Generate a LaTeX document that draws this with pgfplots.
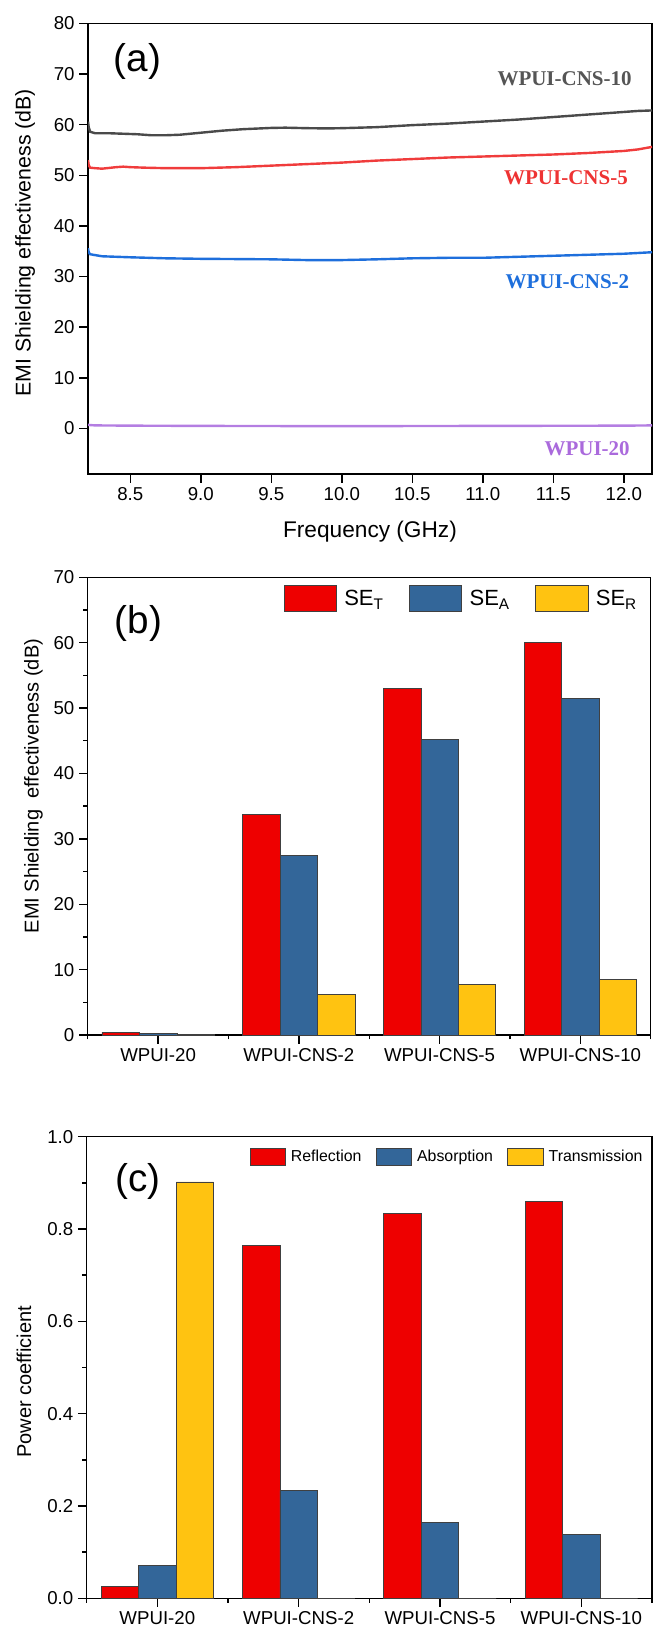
\documentclass[border=0pt]{standalone}
\usepackage{fontspec}
\setmainfont{Liberation Sans}
\newfontfamily\tnr{Liberation Serif}
\usepackage{pgfplots}
\pgfplotsset{compat=1.18}

\definecolor{cgray}{HTML}{4A4A4A}
\definecolor{cred}{HTML}{F03C3C}
\definecolor{cblue}{HTML}{1E6FDC}
\definecolor{cpurple}{HTML}{B47EE2}
\definecolor{lgray}{HTML}{555555}
\definecolor{lred}{HTML}{EE3333}
\definecolor{lblue}{HTML}{1E6FDC}
\definecolor{lpurple}{HTML}{AA6ADC}
\definecolor{bred}{HTML}{EE0000}
\definecolor{bblue}{HTML}{336699}
\definecolor{byellow}{HTML}{FFC311}

\newcommand{\sub}[1]{\raisebox{-3.5pt}{\fontsize{11.5}{12}\selectfont #1}}

\pgfplotsset{
  myaxis/.style={
    scale only axis,
    axis line style={line width=1.1pt},
    every tick/.style={line width=1.1pt, black},
    tick align=outside,
    xtick pos=left, ytick pos=left,
    major tick length=6.5pt, minor tick length=3.3pt,
    tick label style={font=\fontsize{14}{16}\selectfont},
    label style={font=\fontsize{16}{18}\selectfont},
    /pgf/number format/assume math mode=true,
  },
  boxlegB/.style={legend image code/.code={\draw[##1] (0pt,-9.75pt) rectangle (39.3pt,9.75pt);}},
  boxlegC/.style={legend image code/.code={\draw[##1] (0pt,-6.3pt) rectangle (26.8pt,6.3pt);}},
}

\begin{document}
\begin{tikzpicture}
\path[use as bounding box] (0pt,0pt) rectangle (489.75pt,-1221.75pt);

% ---------------- (a) ----------------
\begin{axis}[myaxis,
  at={(66pt,-355.5pt)}, anchor=south west,
  width=423pt, height=338pt,
  xmin=8.2, xmax=12.2, ymin=-9, ymax=80,
  xtick={8.5,9.0,9.5,10.0,10.5,11.0,11.5,12.0},
  ytick={0,10,20,30,40,50,60,70,80},
  xticklabel style={/pgf/number format/.cd, fixed, fixed zerofill, precision=1},
  xlabel={Frequency (GHz)},
  ylabel={EMI Shielding effectiveness (dB)},
  xlabel style={at={(rel axis cs:0.5,-0.1287)}, anchor=center, font=\fontsize{17}{19}\selectfont},
  ylabel style={at={(rel axis cs:-0.1117,0.513)}, anchor=center},
  every axis plot/.append style={line width=1.8pt},
]
\addplot[cgray] coordinates {(8.200,60.6) (8.205,59.5) (8.215,58.6) (8.25,58.3) (8.35,58.3) (8.45,58.2) (8.55,58.1) (8.65,57.9) (8.75,57.9) (8.85,58.0) (9.0,58.4) (9.15,58.8) (9.3,59.1) (9.5,59.35) (9.6,59.4) (9.75,59.3) (9.9,59.25) (10.0,59.3) (10.25,59.5) (10.5,59.9) (10.75,60.2) (11.0,60.6) (11.25,61.0) (11.5,61.5) (11.75,62.0) (12.0,62.5) (12.1,62.7) (12.2,62.8)};
\addplot[cred] coordinates {(8.200,53.0) (8.205,52.0) (8.215,51.5) (8.25,51.4) (8.3,51.3) (8.4,51.6) (8.45,51.7) (8.5,51.6) (8.6,51.5) (8.75,51.4) (9.0,51.4) (9.25,51.6) (9.5,51.9) (9.75,52.2) (10.0,52.5) (10.25,52.9) (10.5,53.2) (10.75,53.5) (11.0,53.7) (11.25,53.9) (11.5,54.1) (11.75,54.4) (12.0,54.8) (12.1,55.1) (12.2,55.6)};
\addplot[cblue] coordinates {(8.200,35.6) (8.205,34.8) (8.215,34.4) (8.3,34.0) (8.5,33.8) (8.75,33.6) (9.0,33.5) (9.5,33.4) (9.75,33.25) (10.0,33.25) (10.25,33.4) (10.5,33.6) (10.75,33.7) (11.0,33.7) (11.25,33.9) (11.5,34.1) (11.75,34.3) (12.0,34.5) (12.2,34.8)};
\addplot[cpurple] coordinates {(8.2,0.7) (8.25,0.6) (8.5,0.55) (9.0,0.5) (10.0,0.45) (11.0,0.5) (12.0,0.55) (12.2,0.6)};
\node[font=\fontsize{29}{32}\selectfont] at (axis cs:8.55,72.5) {(a)};
\node[font=\tnr\bfseries\fontsize{15.75}{18}\selectfont, text=lgray] at (axis cs:11.58,69.1) {WPUI-CNS-10};
\node[font=\tnr\bfseries\fontsize{15.75}{18}\selectfont, text=lred] at (axis cs:11.59,49.5) {WPUI-CNS-5};
\node[font=\tnr\bfseries\fontsize{15.75}{18}\selectfont, text=lblue] at (axis cs:11.60,28.9) {WPUI-CNS-2};
\node[font=\tnr\bfseries\fontsize{15.75}{18}\selectfont, text=lpurple] at (axis cs:11.74,-4.0) {WPUI-20};
\end{axis}

% ---------------- (b) ----------------
\begin{axis}[myaxis,
  at={(65.8pt,-776.25pt)}, anchor=south west,
  width=422.25pt, height=343.3pt,
  ybar=0pt, bar width=28.1pt,
  xmin=-0.5, xmax=3.5, ymin=0, ymax=70,
  xtick={0,1,2,3},
  xticklabels={WPUI-20,WPUI-CNS-2,WPUI-CNS-5,WPUI-CNS-10},
  minor xtick={-0.5,0.5,1.5,2.5,3.5},
  ytick={0,10,20,30,40,50,60,70},
  minor ytick={5,15,25,35,45,55,65},
  ylabel={EMI Shielding\ \ effectiveness (dB)},
  ylabel style={at={(rel axis cs:-0.0963,0.544)}, anchor=center, font=\fontsize{15}{17}\selectfont},
  legend columns=3,
  legend style={at={(rel axis cs:0.3474,0.954)}, anchor=west, draw=none, fill=none,
    inner sep=0pt, font=\fontsize{16.5}{18}\selectfont,
    nodes={inner sep=0pt},
    /tikz/every odd column/.append style={column sep=5.7pt},
    /tikz/every even column/.append style={column sep=19.5pt}},
]
\addplot[fill=bred, draw=black!75, line width=0.5pt, boxlegB]
  coordinates {(0,0.41) (1,33.76) (2,53.05) (3,60.08)};
\addplot[fill=bblue, draw=black!75, line width=0.5pt, boxlegB]
  coordinates {(0,0.30) (1,27.44) (2,45.21) (3,51.53)};
\addplot[fill=byellow, draw=black!75, line width=0.5pt, boxlegB]
  coordinates {(0,0.10) (1,6.26) (2,7.79) (3,8.50)};
\legend{SE\sub{T},SE\sub{A},SE\sub{R}}
\node[font=\fontsize{29}{32}\selectfont] at (axis cs:-0.139,63.0) {(b)};
\end{axis}

% ---------------- (c) ----------------
\begin{axis}[myaxis,
  at={(65pt,-1198.7pt)}, anchor=south west,
  width=424pt, height=346.2pt,
  ybar=0pt, bar width=28.1pt,
  xmin=-0.5, xmax=3.5, ymin=0, ymax=1,
  xtick={0,1,2,3},
  xticklabels={WPUI-20,WPUI-CNS-2,WPUI-CNS-5,WPUI-CNS-10},
  minor xtick={-0.5,0.5,1.5,2.5,3.5},
  ytick={0,0.2,0.4,0.6,0.8,1.0},
  minor ytick={0.1,0.3,0.5,0.7,0.9},
  yticklabel style={/pgf/number format/.cd, fixed, fixed zerofill, precision=1},
  ylabel={Power coefficient},
  ylabel style={at={(rel axis cs:-0.111,0.469)}, anchor=center, font=\fontsize{15}{17}\selectfont},
  legend columns=3,
  legend style={at={(rel axis cs:0.2876,0.9567)}, anchor=west, draw=none, fill=none,
    inner sep=0pt, font=\fontsize{11.9}{13}\selectfont,
    nodes={inner sep=0pt},
    /tikz/every odd column/.append style={column sep=3.75pt},
    /tikz/every even column/.append style={column sep=10.7pt}},
]
\addplot[fill=bred, draw=black!75, line width=0.5pt, boxlegC]
  coordinates {(0,0.026) (1,0.765) (2,0.8345) (3,0.859)};
\addplot[fill=bblue, draw=black!75, line width=0.5pt, boxlegC]
  coordinates {(0,0.0705) (1,0.2336) (2,0.1647) (3,0.139)};
\addplot[fill=byellow, draw=black!75, line width=0.5pt, boxlegC]
  coordinates {(0,0.902) (1,0) (2,0) (3,0)};
\legend{Reflection,Absorption,Transmission}
\node[font=\fontsize{29}{32}\selectfont] at (axis cs:-0.137,0.904) {(c)};
\end{axis}
\end{tikzpicture}
\end{document}
